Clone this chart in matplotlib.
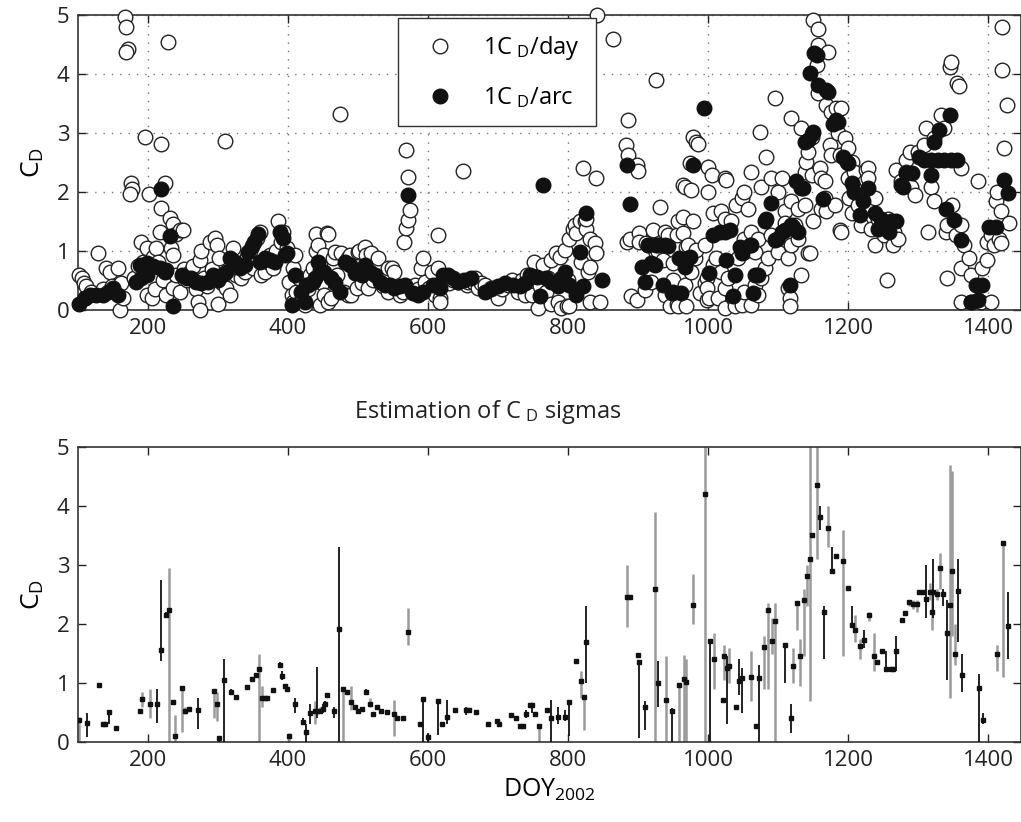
import numpy as np
import matplotlib
matplotlib.use("Agg")
import matplotlib.pyplot as plt
from matplotlib.lines import Line2D

plt.rcParams['font.family'] = ['Open Sans', 'DejaVu Sans']
plt.rcParams['mathtext.fontset'] = 'custom'
plt.rcParams['mathtext.rm'] = 'Open Sans'
plt.rcParams['mathtext.it'] = 'Open Sans'

# ---- top panel: C_D estimated once per day (open) and once per arc (filled)
day_a = [(102,0.6),(105,0.55),(108,0.45),(112,0.4),(110,0.2),(118,0.3),(129,0.97),(135,0.35),(140,0.71),
         (145,0.65),(148,0.4),(152,0.31),(157,0.71),(160,0.0),(164,0.2),(162,0.45),(167,4.97),(169,4.8),
         (172,4.43),(169,4.38),(176,2.16),(177,2.05),(174,1.96),(180,0.55),(185,0.75),(190,1.16),(193,0.82),
         (195,2.93),(198,1.05),(198,0.26),(202,1.96),(205,0.2),(207,0.9),(210,0.35),(212,1.05),(214,0.82),
         (217,1.33),(219,2.81),(219,1.73),(222,0.5),(224,2.16),(226,0.25),(229,4.55),(231,1.56),(233,1.05),
         (236,0.94),(236,1.45),(236,0.37),(240,1.28),(240,0.6),(245,1.36),(245,0.31),(250,1.36),(252,0.7),
         (256,0.5),(260,0.65),(264,0.74),(268,0.35),(271,0.14),(274,0.85),(274,0.0),(276,1.0),(280,0.55),
         (284,0.4),(288,1.16),(291,0.7),(295,1.22),(298,1.1),(300,0.11),(302,0.88),(305,0.45),(310,2.87),
         (312,0.37),(317,0.26),(321,1.05),(325,0.6),(330,0.7),(333,0.54),(338,0.65),(342,0.9),(346,1.0),
         (350,0.71),(355,1.22),(360,1.33),(362,0.6),(364,0.82),(367,0.65),(371,0.82),(374,0.94),(379,0.71),
         (383,1.0),(386,1.5),(390,1.16),(393,1.33),(398,1.05)]
day_b = [(402,0.48),(405,0.26),(407,0.71),(407,0.14),(410,0.94),(412,0.31),(416,0.55),(420,0.2),(424,0.08),
         (428,0.35),(432,0.6),(436,0.71),(440,1.28),(440,1.0),(443,1.1),(445,0.82),(445,0.09),(448,0.45),
         (452,0.94),(452,0.26),(455,1.3),(457,1.28),(457,0.14),(462,0.2),(464,0.88),(467,0.99),(470,0.6),
         (474,3.32),(476,0.96),(480,0.3),(486,0.88),(486,0.25),(488,0.94),(490,0.26),(495,0.77),(498,0.37),
         (500,0.99),(502,1.0),(505,0.45),(510,1.07),(512,0.94),(514,0.37),(519,0.96),(522,0.5),(526,0.71),
         (529,0.88),(531,0.54),(536,0.4),(540,0.6),(543,0.71),(543,0.31),(548,0.71),(552,0.65),(557,0.37),
         (560,0.26),(564,0.31),(566,1.16),(569,1.39),(569,2.71),(571,2.26),(572,1.53),(574,1.69),(577,0.3),
         (581,0.42),(586,0.35),(590,0.71),(593,0.88),(595,0.48),(602,0.37),(605,0.65),(610,0.25),(614,1.27),
         (614,0.71),(617,0.2),(619,0.43),(617,0.14),(625,0.55),(630,0.45),(636,0.5),(643,0.48),(650,2.36),
         (655,0.42),(657,0.48),(664,0.48),(667,0.54),(671,0.37),(676,0.45),(681,0.43),(690,0.37),(695,0.3),
         (700,0.2),(705,0.35),(714,0.43),(720,0.5),(729,0.31),(734,0.5),(738,0.25),(742,0.6),(748,0.25),
         (752,0.82),(757,0.03),(760,0.4),(764,0.76),(768,0.3),(772,0.55),(776,0.85),(776,0.11),(783,0.96),
         (786,0.14),(788,0.9),(790,0.03),(795,1.02),(798,0.06),(800,0.5)]
day_c = [(802,1.21),(802,0.06),(807,1.38),(810,1.44),(812,1.3),(817,1.5),(819,0.82),(821,2.4),(824,1.5),
         (826,1.38),(826,1.55),(829,0.65),(831,1.21),(831,0.73),(831,0.14),(838,1.13),(840,0.96),(840,2.23),
         (841,5.0),(845,0.14),(864,4.6),(883,2.8),(884,1.15),(886,3.22),(886,2.63),(888,1.21),(890,0.23),
         (898,2.46),(898,0.17),(900,2.35),(902,1.3),(902,1.15),(910,0.34),(912,1.13),(914,1.1),(919,0.48),
         (921,1.36),(926,3.9),(926,0.96),(929,0.99),(931,1.75),(936,0.85),(938,1.33),(938,0.25),(943,1.27),
         (945,0.06),(950,0.79),(950,0.5),(955,1.27),(955,0.11),(957,1.5),(957,0.06),(964,2.12),(964,1.58),
         (964,1.3),(967,2.09),(967,0.42),(969,1.07),(969,0.06),(971,1.1),(974,2.49),(976,2.03),(976,0.65),
         (979,2.94),(979,1.5),(981,0.88),(983,2.85),(983,1.02),(986,2.82),(988,0.28),(995,1.1),(995,0.45),
         (998,0.54),(998,0.37),(998,0.17),(1000,2.43),(1000,2.0),(1002,0.2),(1005,2.29),(1007,1.64),
         (1007,0.76),(1012,0.88),(1014,0.2),(1019,1.67),(1019,0.65),(1024,2.23),(1024,1.55),(1024,0.37),
         (1024,0.03),(1026,2.2),(1029,0.54),(1033,1.5),(1036,0.2),(1038,0.06),(1040,1.78),(1043,0.88),
         (1048,1.89),(1048,0.08),(1052,2.0),(1052,1.21),(1052,0.99),(1052,0.31),(1057,1.72),(1062,2.34),
         (1062,1.33),(1062,0.08),(1067,0.99),(1067,0.42),(1071,1.21),(1071,0.25),(1074,3.02),(1076,2.09),
         (1076,0.54),(1081,0.71),(1083,2.6),(1086,0.88),(1090,2.23),(1090,1.27),(1095,3.59),(1100,2.0),
         (1100,0.99)]
day_d = [(1105,2.23),(1110,1.67),(1110,1.47),(1114,0.88),(1114,0.37),(1117,0.2),(1117,0.06),(1119,3.25),
         (1119,1.84),(1119,1.1),(1124,1.44),(1129,1.72),(1129,1.21),(1133,3.08),(1133,0.59),(1138,1.78),
         (1138,2.34),(1140,2.51),(1143,2.68),(1143,0.96),(1145,0.96),(1148,2.94),(1148,2.29),(1150,4.92),
         (1150,1.5),(1155,4.15),(1157,4.77),(1157,4.49),(1157,3.67),(1160,2.4),(1162,2.23),(1162,1.72),
         (1167,2.18),(1167,1.89),(1169,3.47),(1169,1.67),(1171,4.38),(1174,2.8),(1176,3.36),(1176,2.63),
         (1181,1.78),(1183,3.42),(1186,3.0),(1188,2.63),(1188,1.36),(1190,3.42),(1190,1.33),(1195,2.91),
         (1200,2.74),(1200,2.23),(1202,1.89),(1205,2.51),(1205,1.64),(1209,2.34),(1209,2.06),(1214,1.78),
         (1219,1.44),(1226,2.37),(1228,2.4),(1228,2.23),(1233,1.38),(1238,1.89),(1238,1.1),(1243,1.55),
         (1252,1.27),(1255,0.51),(1257,1.55),(1264,1.1),(1266,1.33),(1269,2.37),(1271,1.21),(1276,2.18),
         (1283,2.54),(1283,2.34),(1288,2.68),(1290,2.09),(1295,1.95),(1300,2.68),(1309,2.8),(1311,3.08),
         (1314,1.33),(1318,2.09),(1323,2.91),(1323,1.84),(1333,3.3),(1337,3.08),(1340,1.33),(1342,1.44),
         (1342,0.54),(1345,4.12),(1347,4.21),(1349,1.78),(1354,1.27),(1356,3.84),(1359,3.79),(1361,2.4),
         (1361,1.44),(1361,0.71),(1361,0.14),(1366,1.1),(1373,0.88),(1375,0.59),(1375,0.14),(1385,2.18),
         (1390,0.14),(1392,0.71),(1399,1.16),(1399,0.85),(1404,1.27),(1404,0.14),(1409,1.1),(1411,1.84),
         (1413,2.0),(1416,1.21),(1418,1.67),(1418,1.13),(1420,4.8),(1420,4.07),(1423,2.74),(1427,3.47),
         (1430,1.47)]

arc_a = [(102,0.11),(110,0.2),(117,0.26),(126,0.26),(136,0.26),(143,0.31),(150,0.37),(157,0.26),(183,0.48),
         (190,0.54),(198,0.6),(188,0.77),(198,0.8),(207,0.74),(217,0.71),(224,0.65),(226,0.68),(219,2.05),
         (231,1.25),(236,0.06),(248,0.6),(255,0.54),(262,0.54),(269,0.48),(276,0.45),(286,0.48),(293,0.6),
         (300,0.51),(305,0.6),(312,0.65),(317,0.88),(324,0.82),(331,0.71),(338,0.77),(343,0.99),(348,1.08),
         (352,1.16),(357,1.28),(360,0.82),(367,0.88),(374,0.85),(381,0.82),(388,1.33),(393,1.22),(395,0.94),
         (398,0.96)]
arc_b = [(405,0.08),(410,0.6),(419,0.31),(424,0.14),(426,0.43),(429,0.42),(436,0.48),(438,0.54),(443,0.82),
         (445,0.68),(452,0.65),(462,0.54),(467,0.45),(474,0.31),(481,0.82),(488,0.77),(495,0.62),(505,0.6),
         (510,0.77),(517,0.65),(524,0.6),(531,0.48),(538,0.43),(545,0.43),(552,0.37),(560,0.4),(567,0.43),
         (571,1.95),(579,0.28),(586,0.26),(593,0.31),(607,0.43),(617,0.37),(621,0.6),(629,0.6),(636,0.54),
         (643,0.48),(652,0.51),(662,0.54),(681,0.3),(690,0.36),(700,0.4),(710,0.45),(721,0.42),(731,0.4),
         (738,0.45),(745,0.59),(755,0.56),(760,0.23),(764,2.12),(769,0.54),(776,0.48),(781,0.45),(786,0.4),
         (790,0.54),(795,0.65)]
arc_c = [(802,0.42),(812,0.25),(817,0.98),(821,0.4),(826,1.64),(848,0.51),(884,2.45),(889,1.8),(905,0.73),
         (910,0.48),(914,1.1),(919,0.79),(924,0.76),(926,1.1),(929,1.1),(936,0.42),(938,1.1),(943,1.08),
         (948,0.28),(950,0.31),(959,0.88),(962,0.28),(967,0.73),(971,0.88),(974,0.9),(979,2.46),(994,3.43),
         (1002,0.62),(1007,1.27),(1017,1.33),(1024,1.33),(1026,0.85),(1031,1.36),(1036,0.23),(1038,0.59),
         (1045,1.07),(1048,0.96),(1060,1.1),(1062,1.1),(1064,0.28),(1067,0.59),(1071,0.59),(1081,1.5),
         (1083,1.55),(1090,1.81),(1095,1.19),(1098,1.21)]
arc_d = [(1105,1.33),(1110,1.36),(1117,0.42),(1119,1.44),(1121,1.41),(1126,2.18),(1129,1.33),(1133,2.06),
         (1136,2.06),(1138,2.85),(1143,2.88),(1145,4.01),(1148,2.99),(1150,3.02),(1152,4.35),(1155,4.32),
         (1157,3.81),(1164,1.88),(1169,3.73),(1171,3.7),(1178,3.16),(1183,3.22),(1186,3.19),(1193,2.6),
         (1198,2.51),(1200,2.49),(1205,2.15),(1209,2.0),(1217,1.61),(1221,1.84),(1228,2.06),(1238,1.64),
         (1243,1.38),(1247,1.55),(1259,1.33),(1262,1.5),(1269,1.5),(1276,2.12),(1279,2.09),(1283,2.32),
         (1292,2.32),(1302,2.6),(1309,2.55),(1318,2.55),(1318,2.29),(1323,2.85),(1328,2.55),(1330,3.05),
         (1337,2.55),(1340,1.72),(1345,3.3),(1347,2.55),(1352,1.53),(1356,2.55),(1361,1.19),(1376,0.14),
         (1383,0.42),(1392,0.42),(1385,0.17),(1402,1.41),(1411,1.41),(1423,2.2),(1428,1.98)]

# ---- bottom panel: doy, C_D, bar bottom, bar top, grey bar (1) or black bar (0)
sigma_rows = [
    (101,0.38,0.0,0.42,1),(113,0.32,0.08,0.5,0),(130,0.96,0.96,0.96,0),(136,0.31,0.31,0.31,0),
    (139,0.31,0.31,0.31,0),(144,0.51,0.31,0.55,0),(154,0.24,0.24,0.24,0),(188,0.53,0.53,0.53,0),
    (192,0.73,0.6,0.85,1),(203,0.65,0.4,0.9,1),(213,0.65,0.33,0.9,0),(218,1.56,1.38,2.75,0),
    (225,2.16,2.1,2.2,0),(230,2.23,0.0,2.95,1),(236,0.67,0.67,0.67,0),(238,0.1,0.0,0.45,1),
    (248,0.92,0.17,0.95,1),(253,0.53,0.47,0.6,1),(259,0.56,0.56,0.56,0),(271,0.54,0.22,0.75,0),
    (294,0.86,0.4,0.86,1),(299,0.64,0.35,0.85,1),(301,0.07,0.0,0.1,0),(308,1.05,0.0,1.4,0),
    (319,0.85,0.8,0.9,0),(326,0.76,0.76,0.76,0),(342,0.94,0.94,0.94,0),(348,1.07,1.07,1.07,0),
    (354,1.14,1.14,1.14,0),(358,1.24,0.0,1.5,1),(363,0.75,0.6,0.95,1),(367,0.75,0.75,0.75,0),
    (370,0.75,0.75,0.75,0),(378,0.88,0.88,0.88,0),(388,1.3,1.25,1.35,0),(391,1.12,1.05,1.2,0),
    (395,0.95,0.95,0.95,0),(399,0.9,0.85,0.95,0),(402,0.11,0.0,0.15,1),(410,0.65,0.5,0.75,0),
    (421,0.34,0.3,0.4,0),(426,0.17,0.0,0.3,0),(431,0.49,0.3,0.65,0),(438,0.53,0.3,0.7,1),
    (442,0.53,0.4,1.27,0),(446,0.53,0.5,0.6,1),(450,0.56,0.5,0.65,0),(453,0.65,0.6,0.7,0),
    (455,0.79,0.75,0.8,0),(466,0.53,0.4,0.6,0),(473,1.92,0.0,3.3,0),(478,0.9,0.0,0.9,1),
    (484,0.85,0.85,0.85,0),(490,0.67,0.55,0.95,1),(496,0.59,0.59,0.59,0),(500,0.53,0.53,0.53,0),
    (505,0.56,0.56,0.56,0),(512,0.85,0.8,0.9,0),(517,0.65,0.6,0.75,1),(521,0.48,0.48,0.48,0),
    (527,0.59,0.59,0.59,0),(533,0.53,0.53,0.53,0),(541,0.51,0.51,0.51,0),(552,0.47,0.1,0.72,1),
    (556,0.41,0.41,0.41,0),(564,0.41,0.41,0.41,0),(572,1.86,1.65,2.27,1),(588,0.31,0.31,0.31,0),
    (593,0.73,0.0,0.73,0),(600,0.08,0.0,0.15,0),(614,0.7,0.12,0.7,0),(620,0.31,0.31,0.31,0),
    (627,0.43,0.3,0.72,0),(638,0.55,0.55,0.55,0),(654,0.54,0.45,0.6,0),(659,0.54,0.54,0.54,0),
    (669,0.51,0.51,0.51,0),(686,0.31,0.31,0.31,0),(699,0.35,0.35,0.35,0),(702,0.3,0.3,0.3,0),
    (718,0.45,0.45,0.45,0),(725,0.41,0.41,0.41,0),(731,0.27,0.27,0.27,0),(736,0.27,0.27,0.27,0),
    (740,0.48,0.4,0.55,0),(745,0.62,0.62,0.62,0),(749,0.62,0.5,0.62,0),(753,0.48,0.48,0.48,0),
    (758,0.27,0.0,0.27,1),(770,0.55,0.55,0.55,0),(776,0.41,0.0,0.72,0),(785,0.43,0.3,0.6,0),
    (795,0.43,0.35,0.55,0),(802,0.67,0.1,0.67,0),(812,1.38,1.38,1.38,0),(818,1.03,0.75,1.2,1),
    (823,0.76,0.2,0.76,1),(825,1.7,1.0,2.3,0),(884,2.46,1.95,3.0,1),(888,2.46,2.46,2.46,0),
    (900,1.47,1.47,1.47,0),(902,1.36,0.06,1.36,0),(910,0.59,0.2,0.7,0),(924,2.59,0.0,3.9,1),
    (929,1.0,0.6,1.37,0),(940,0.72,0.0,1.45,1),(949,0.52,0.0,0.58,0),(959,0.97,0.0,0.97,1),
    (965,1.07,0.0,1.47,1),(969,1.01,0.0,1.4,1),(979,2.33,2.0,2.85,1),(995,4.21,0.0,5.5,1),
    (1003,1.72,0.0,1.72,0),(1009,1.41,0.9,1.85,1),(1022,0.71,0.71,0.71,0),(1023,1.45,1.05,1.65,1),
    (1027,1.25,0.3,1.45,0),(1030,1.29,1.0,1.6,1),(1040,0.59,0.59,0.59,0),(1044,1.03,0.8,1.4,0),
    (1049,1.08,0.5,1.25,0),(1062,1.11,0.7,1.55,1),(1068,0.27,0.27,0.27,0),(1073,1.08,0.0,1.3,0),
    (1080,1.61,0.9,1.8,1),(1086,2.23,0.9,2.35,1),(1091,1.72,1.5,2.1,1),(1096,2.05,0.0,2.35,1),
    (1110,1.64,1.0,1.64,0),(1118,0.4,0.15,0.65,0),(1121,1.29,1.0,1.6,1),(1127,2.36,1.9,2.36,1),
    (1132,1.45,0.95,1.75,1),(1137,2.4,1.45,2.6,1),(1142,2.81,2.3,3.0,1),(1146,3.11,0.7,5.5,1),
    (1149,3.51,3.51,3.51,0),(1155,4.36,3.1,5.5,1),(1160,3.81,3.6,4.0,0),(1166,2.2,1.4,2.3,0),
    (1171,3.63,3.3,4.0,1),(1177,2.89,2.89,3.3,0),(1183,3.15,3.15,3.15,0),(1193,3.07,1.45,3.6,1),
    (1200,2.61,2.61,2.61,0),(1206,1.99,1.99,2.3,0),(1210,1.9,1.7,2.15,1),(1217,1.63,1.4,1.75,1),
    (1223,1.73,1.6,1.9,0),(1230,2.16,2.05,2.2,1),(1237,1.46,1.2,1.85,1),(1242,1.35,1.35,1.35,0),
    (1248,1.54,1.54,1.54,0),(1254,1.24,1.2,1.55,0),(1262,1.23,1.23,1.23,0),(1264,1.23,1.23,1.23,0),
    (1268,1.55,1.2,1.8,0),(1277,2.06,2.06,2.06,0),(1281,2.18,2.18,2.18,0),(1287,2.37,2.3,2.4,1),
    (1293,2.34,2.25,2.4,1),(1298,2.34,2.2,2.4,1),(1302,2.54,2.54,2.54,0),(1307,2.54,2.54,2.54,0),
    (1312,2.43,2.1,3.0,0),(1317,2.54,2.4,2.7,1),(1320,2.2,1.9,2.6,1),(1322,2.54,2.1,3.1,0),
    (1327,2.51,2.4,2.6,1),(1331,2.95,2.6,3.2,1),(1336,2.51,2.3,2.6,0),(1341,1.84,1.05,2.4,0),
    (1346,2.33,0.75,4.7,1),(1349,2.89,1.8,4.6,1),(1353,1.49,1.3,2.0,1),(1357,2.56,1.7,3.1,0),
    (1363,1.13,0.85,1.5,0),(1387,0.92,0.0,1.15,0),(1393,0.37,0.3,0.5,0),(1413,1.5,1.2,1.65,1),
    (1422,3.37,1.1,3.4,1),(1429,1.97,1.4,2.55,0)]

xticks = [200, 400, 600, 800, 1000, 1200, 1400]
yticks = [0, 1, 2, 3, 4, 5]

day = np.array(day_a + day_b + day_c + day_d)
arc = np.array(arc_a + arc_b + arc_c + arc_d)
sig = np.array(sigma_rows)

fig = plt.figure(figsize=(10.21, 8.22), dpi=100)
ax1 = fig.add_axes([78/1021, 1-310/822, 943/1021, 295/822])
ax2 = fig.add_axes([78/1021, 1-742/822, 943/1021, 295/822])

ms = 10.5
ax1.plot(day[:, 0], day[:, 1], 'o', ms=ms, mfc='white', mec='#222222', mew=1.0, clip_on=False, zorder=3)
ax1.plot(arc[:, 0], arc[:, 1], 'o', ms=ms, mfc='#111111', mec='#111111', mew=1.0, clip_on=False, zorder=4)
ax1.grid(True, linestyle=(0, (1, 5)), color='#777777', linewidth=1.0)
ax1.set_axisbelow(True)

handles = [Line2D([], [], ls='', marker='o', ms=ms, mfc='white', mec='#222222'),
           Line2D([], [], ls='', marker='o', ms=ms, mfc='#111111', mec='#111111')]
leg = ax1.legend(handles, ['1C$_{\\rm\\ D}$/day', '1C$_{\\rm\\ D}$/arc'], loc='upper left',
                 bbox_to_anchor=(0.339, 0.99), fontsize=17, fancybox=False, framealpha=1,
                 edgecolor='#333333', borderpad=0.7, labelspacing=0.95, handlelength=2.2,
                 handletextpad=0.7, borderaxespad=0)
leg.get_frame().set_linewidth(1.0)
leg.set_zorder(10)
ax1.set_ylabel('C$_{\\rm D}$', fontsize=19, labelpad=8)

# sigma bars
grey = sig[:, 4] == 1
ax2.vlines(sig[grey, 0], sig[grey, 2], sig[grey, 3], color='#9a9a9a', linewidth=1.8, zorder=2)
ax2.vlines(sig[~grey, 0], sig[~grey, 2], sig[~grey, 3], color='#111111', linewidth=1.3, zorder=3)
ax2.plot(sig[:, 0], sig[:, 1], 's', ms=3.4, color='#111111', zorder=4)
ax2.set_ylabel('C$_{\\rm D}$', fontsize=19, labelpad=8)
ax2.set_xlabel('DOY$_{\\rm 2002}$', fontsize=18, labelpad=4)
fig.text(488/1021, 1-412/822, 'Estimation of C$_{\\rm\\ D}$ sigmas', fontsize=17,
         ha='center', va='center', color='#222222')

for ax in (ax1, ax2):
    ax.set_xlim(100, 1447)
    ax.set_ylim(0, 5)
    ax.set_xticks(xticks)
    ax.set_yticks(yticks)
    ax.tick_params(direction='in', length=6, width=1.0, labelsize=16, top=True, right=True,
                   colors='#222222', pad=6)
    for s in ax.spines.values():
        s.set_linewidth(1.2)
        s.set_color('#333333')

fig.savefig('out.png', dpi=100)
